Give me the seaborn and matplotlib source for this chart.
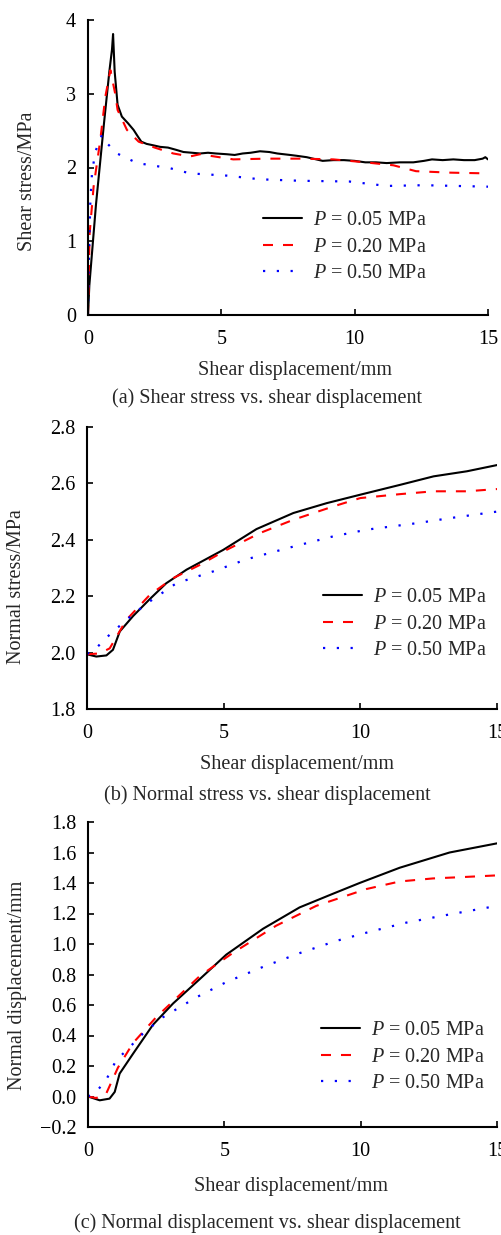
import matplotlib
matplotlib.use("Agg")
import matplotlib.pyplot as plt
import seaborn as sns
import pandas as pd

# ---------------- data ----------------
labels = ["$P$ = 0.05 MPa", "$P$ = 0.20 MPa", "$P$ = 0.50 MPa"]
x_ticks = [0, 5, 10, 15]

# (a) shear stress vs shear displacement
a_x005 = [0, 0.05, 0.3, 0.6, 0.8, 0.9, 0.94, 1.0, 1.11, 1.27, 1.5, 1.71, 1.87, 2.0, 2.2, 2.46, 2.7, 3.0,
          3.3, 3.58, 3.9, 4.2, 4.5, 4.8, 5.2, 5.5, 5.8, 6.1, 6.45, 6.8, 7.1, 7.58, 7.8, 8.2, 8.8, 9.2,
          9.6, 10.0, 10.4, 10.8, 11.2, 11.7, 12.2, 12.6, 12.9, 13.3, 13.7, 14.1, 14.5, 14.8, 14.9, 15.0]
a_y005 = [0, 0.4, 1.5, 2.6, 3.3, 3.6, 3.81, 3.3, 2.85, 2.69, 2.6, 2.51, 2.42, 2.35, 2.32, 2.3, 2.28, 2.27,
          2.24, 2.21, 2.2, 2.19, 2.2, 2.19, 2.18, 2.17, 2.19, 2.2, 2.22, 2.21, 2.19, 2.17, 2.16, 2.14, 2.09,
          2.1, 2.1, 2.09, 2.07, 2.07, 2.06, 2.07, 2.07, 2.09, 2.11, 2.1, 2.11, 2.1, 2.1, 2.12, 2.14, 2.11]
a_x020 = [0, 0.06, 0.21, 0.46, 0.65, 0.84, 1.02, 1.11, 1.46, 1.9, 2.5, 3.2, 3.83, 4.2, 5.45, 6.7, 8.0,
          9.2, 10.4, 11.45, 12.3, 13.6, 15.0]
a_y020 = [0, 1.1, 1.74, 2.37, 2.96, 3.32, 3.0, 2.78, 2.51, 2.35, 2.27, 2.19, 2.15, 2.18, 2.11, 2.12, 2.12,
          2.11, 2.07, 2.03, 1.95, 1.93, 1.92]
a_x050 = [0, 0.02, 0.06, 0.09, 0.15, 0.27, 0.52, 0.71, 1.09, 1.84, 3.08, 3.83, 5.2, 6.45, 7.95, 9.8,
          11.2, 12.6, 15.0]
a_y050 = [0, 0.52, 1.15, 1.56, 1.92, 2.21, 2.44, 2.33, 2.19, 2.06, 1.99, 1.92, 1.89, 1.84, 1.82, 1.81,
          1.75, 1.76, 1.74]

# (b) normal stress vs shear displacement
b_x005 = [0, 0.34, 0.71, 0.95, 1.2, 1.69, 2.3, 2.9, 3.64, 4.98, 6.2, 7.55, 8.77, 10.0, 11.46, 12.68,
          13.9, 15.0]
b_y005 = [1.994, 1.986, 1.99, 2.01, 2.075, 2.13, 2.19, 2.246, 2.294, 2.364, 2.438, 2.495, 2.53, 2.56,
          2.595, 2.625, 2.643, 2.665]
b_x020 = [0, 0.46, 0.83, 1.44, 2.3, 3.15, 4.13, 5.1, 6.33, 7.55, 9.0, 10.0, 11.46, 12.68, 13.9, 15.0]
b_y020 = [1.994, 1.997, 2.015, 2.116, 2.205, 2.264, 2.311, 2.364, 2.424, 2.471, 2.518, 2.548, 2.562,
          2.572, 2.572, 2.58]
b_x050 = [0, 0.22, 0.71, 1.44, 2.17, 3.27, 4.62, 5.84, 7.55, 9.0, 10.24, 12.07, 13.29, 15.0]
b_y050 = [1.996, 2.004, 2.053, 2.116, 2.173, 2.246, 2.288, 2.331, 2.376, 2.412, 2.436, 2.459, 2.477, 2.5]

# (c) normal displacement vs shear displacement
c_x005 = [0, 0.43, 0.79, 0.98, 1.16, 1.65, 2.38, 3.12, 4.1, 5.07, 6.42, 7.76, 8.99, 9.96, 11.43, 13.26,
          15.0]
c_y005 = [0.0, -0.025, -0.014, 0.03, 0.15, 0.28, 0.47, 0.61, 0.77, 0.93, 1.1, 1.24, 1.33, 1.4, 1.5,
          1.6, 1.66]
c_x020 = [0, 0.3, 0.67, 1.1, 1.65, 2.5, 4.1, 5.3, 6.9, 8.37, 10.2, 11.43, 12.65, 13.87, 15.0]
c_y020 = [0.0, -0.01, 0.02, 0.19, 0.35, 0.52, 0.79, 0.94, 1.12, 1.25, 1.36, 1.41, 1.43, 1.44, 1.45]
c_x050 = [0, 0.3, 0.67, 1.04, 1.4, 2.0, 2.75, 3.97, 5.07, 6.42, 7.76, 9.1, 10.33, 11.67, 13.14, 15.0]
c_y050 = [0.0, 0.03, 0.11, 0.24, 0.3, 0.41, 0.52, 0.65, 0.75, 0.85, 0.94, 1.02, 1.08, 1.14, 1.19, 1.25]

panels = [
    dict(series=[(a_x005, a_y005), (a_x020, a_y020), (a_x050, a_y050)],
         ylim=(0, 4), yticks=[0, 1, 2, 3, 4], yfmt="{:.0f}",
         ylabel="Shear stress/MPa",
         caption="(a) Shear stress vs. shear displacement"),
    dict(series=[(b_x005, b_y005), (b_x020, b_y020), (b_x050, b_y050)],
         ylim=(1.8, 2.8), yticks=[1.8, 2.0, 2.2, 2.4, 2.6, 2.8], yfmt="{:.1f}",
         ylabel="Normal stress/MPa",
         caption="(b) Normal stress vs. shear displacement"),
    dict(series=[(c_x005, c_y005), (c_x020, c_y020), (c_x050, c_y050)],
         ylim=(-0.2, 1.8), yticks=[-0.2, 0.0, 0.2, 0.4, 0.6, 0.8, 1.0, 1.2, 1.4, 1.6, 1.8], yfmt="{:.1f}",
         ylabel="Normal displacement/mm",
         caption="(c) Normal displacement vs. shear displacement"),
]

# ---------------- style ----------------
sns.set_style("ticks")
plt.rcParams["font.family"] = ["Liberation Serif", "DejaVu Serif"]
plt.rcParams["mathtext.fontset"] = "custom"
plt.rcParams["mathtext.it"] = "Liberation Serif:italic"
plt.rcParams["mathtext.rm"] = "Liberation Serif"
FS = 14.5

colors = ["black", "red", "blue"]
dash_styles = [(None, None), (4.8, 4.8), (1.0, 5.2)]
lws = [1.5, 1.5, 1.6]

W, H = 502, 1235
fig = plt.figure(figsize=(W / 100, H / 100), dpi=100)

# pixel boxes (left, right, top, bottom)
boxes = [(88, 488, 20, 315), (87, 497, 427, 709), (88, 497, 822, 1127)]
ylabel_pos = [(27, 181), (16, 587), (18, 985)]
xlabel_pos = [(295, 370), (297, 765), (291, 1187)]
caption_pos = [(267, 398), (267, 795), (267, 1223)]
legend_pos = [(263, 247), (323, 624), (321, 1057)]

for p, box, ylp, xlp, cp, lp in zip(panels, boxes, ylabel_pos, xlabel_pos, caption_pos, legend_pos):
    l, r, t, b = box
    ax = fig.add_axes([l / W, 1 - b / H, (r - l) / W, (b - t) / H])
    for (xs, ys), c, d, lw, lab in zip(p["series"], colors, dash_styles, lws, labels):
        df = pd.DataFrame({"x": xs, "y": ys})
        sns.lineplot(data=df, x="x", y="y", ax=ax, color=c, lw=lw,
                     estimator=None, sort=False, label=lab, legend=False)
        ln = ax.lines[-1]
        if d[0] is not None:
            ln.set_dashes(d)
            ln.set_dash_capstyle("butt")
    ax.set_xlim(0, 15)
    ax.set_ylim(*p["ylim"])
    ax.set_xticks(x_ticks)
    ax.set_xticklabels([str(v) for v in x_ticks], fontsize=FS)
    ax.set_yticks(p["yticks"])
    ax.set_yticklabels([p["yfmt"].format(v).replace("-", "\u2212") for v in p["yticks"]], fontsize=FS)
    ax.tick_params(direction="in", length=4, width=1.2, colors="black")
    ax.tick_params(axis="y", pad=8.5)
    ax.tick_params(axis="x", pad=10.5)
    for s in ["top", "right"]:
        ax.spines[s].set_visible(False)
    for s in ["left", "bottom"]:
        ax.spines[s].set_linewidth(1.5)
        ax.spines[s].set_color("black")
    ax.set_xlabel("Shear displacement/mm", fontsize=FS, va="center")
    ax.xaxis.set_label_coords((xlp[0] - l) / (r - l), (b - xlp[1]) / (b - t))
    ax.set_ylabel(p["ylabel"], fontsize=FS, va="center")
    ax.yaxis.set_label_coords((ylp[0] - l) / (r - l), (b - ylp[1]) / (b - t))
    fig.text(cp[0] / W, 1 - cp[1] / H, p["caption"], fontsize=FS, ha="center", va="center")
    ax.legend(handles=ax.lines[:3], labels=labels, loc="center left",
              bbox_to_anchor=((lp[0] - l) / (r - l), (b - lp[1]) / (b - t)),
              frameon=False, fontsize=FS, borderpad=0, borderaxespad=0,
              handlelength=1.95, handletextpad=0.55, labelspacing=0.36)

fig.savefig("out.png", dpi=100)
